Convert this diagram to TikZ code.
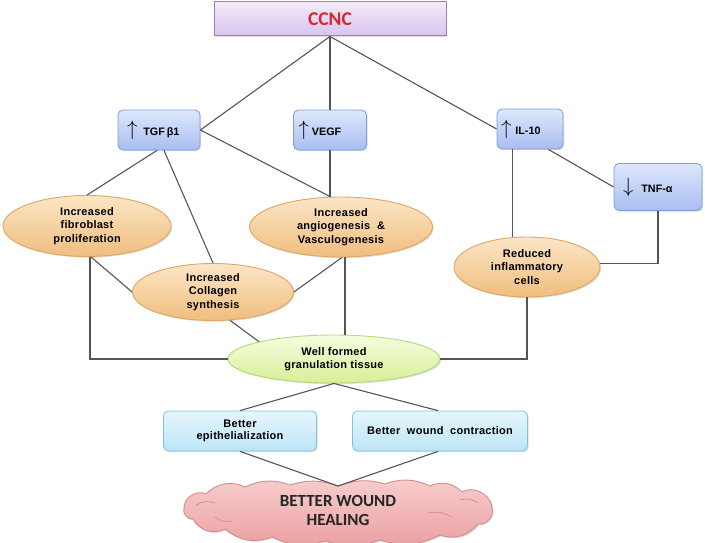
\documentclass[tikz,border=0pt]{standalone}
\usepackage{fontspec}
\setmainfont{Liberation Sans}
\newfontfamily\calib{Carlito}
\newfontfamily\ovalfont[LetterSpace=2.5]{Liberation Sans}
\usetikzlibrary{shapes.geometric,shadows,calc}
\definecolor{lnc}{HTML}{555555}
\definecolor{ccncR}{HTML}{D42A2A}
\definecolor{HTMLpurpleb}{HTML}{9C7DC6}
\definecolor{purpleT}{HTML}{F3EAFB}
\definecolor{purpleB}{HTML}{D8C4EF}
\definecolor{blueD}{HTML}{7E9BDA}
\definecolor{blueT}{HTML}{DEE7FC}
\definecolor{blueB}{HTML}{A8BEF1}
\definecolor{orangeD}{HTML}{E0A560}
\definecolor{orangeT}{HTML}{FCE6C6}
\definecolor{orangeB}{HTML}{EFBD7E}
\definecolor{greenD}{HTML}{B5D977}
\definecolor{greenT}{HTML}{F6FCDF}
\definecolor{greenB}{HTML}{D6EF98}
\definecolor{cyanD}{HTML}{7CC5E5}
\definecolor{cyanT}{HTML}{E6F6FC}
\definecolor{cyanB}{HTML}{BCE5F6}
\definecolor{pinkD}{HTML}{D48B8D}
\definecolor{pinkT}{HTML}{F8CDCD}
\definecolor{pinkB}{HTML}{EAA0A2}
\tikzset{
  conn/.style={draw=lnc, line width=1.1pt},
  shd/.style={drop shadow={opacity=0.25, shadow xshift=1.2pt, shadow yshift=-1.2pt}},
  topbox/.style={rectangle, draw=HTMLpurpleb, line width=1pt, top color=purpleT, bottom color=purpleB,
     minimum width=232pt, minimum height=34pt, inner sep=0pt, shd,
     font=\calib\bfseries\fontsize{19.5}{20}\selectfont, text=ccncR},
  bluebox/.style={rectangle, rounded corners=5pt, draw=blueD, line width=0.8pt, top color=blueT, bottom color=blueB,
     minimum height=40pt, inner sep=4pt, align=left, shd,
     font=\bfseries\fontsize{10.8}{12}\selectfont},
  oval/.style={ellipse, draw=orangeD, line width=0.9pt, top color=orangeT, bottom color=orangeB,
     inner sep=0pt, align=center, shd, font=\ovalfont\bfseries\fontsize{11}{13.8}\selectfont},
  greenoval/.style={ellipse, draw=greenD, line width=0.9pt, top color=greenT, bottom color=greenB,
     inner sep=0pt, align=center, shd, font=\ovalfont\bfseries\fontsize{11}{12.5}\selectfont},
  cyanbox/.style={rectangle, rounded corners=5pt, draw=cyanD, line width=0.8pt, top color=cyanT, bottom color=cyanB,
     minimum height=40pt, inner sep=0pt, align=center, shd, font=\ovalfont\bfseries\fontsize{11}{12.5}\selectfont},
  cloudpath/.style={draw=pinkD, line width=0.9pt, top color=pinkT, bottom color=pinkB, shd},
  puffline/.style={draw=pinkD, line width=0.7pt},
  cloudtext/.style={inner sep=0pt, align=center, font=\calib\bfseries\fontsize{17}{19}\selectfont, text=black!85}
}
\newcommand{\upa}{{\fontsize{21}{21}\selectfont$\uparrow$}}
\newcommand{\dna}{{\fontsize{21}{21}\selectfont$\downarrow$}}
\begin{document}
\begin{tikzpicture}[x=1pt,y=-1pt]
\useasboundingbox (0,0) rectangle (705,543);
% cloud outline
\path[cloudpath] (184,508) to[bend left=60] (206,494) to[bend left=35] (245,487)
   to[bend left=22] (290,485) to[bend left=18] (338,486) to[bend left=18] (385,484)
   to[bend left=22] (430,486) to[bend left=35] (462,492) to[bend left=60] (492,508)
   to[bend left=60] (478,524) to[bend left=35] (440,535) to[bend left=22] (380,540)
   to[bend left=18] (325,541) to[bend left=22] (272,537) to[bend left=30] (225,529)
   to[bend left=45] (193,519) to[bend left=60] (184,508) -- cycle;
\draw[puffline] (196,505) to[bend left=25] (215,503);
\draw[puffline] (215,517) to[bend right=25] (232,521);
\draw[puffline] (428,513) to[bend left=20] (452,517);
\draw[puffline] (460,500) to[bend left=25] (478,503);
% nodes
\node[topbox] (ccnc) at (330,19) {CCNC};
\node[bluebox, minimum width=82pt, text width=74pt] (tgf) at (159,130) {\hspace{5pt}\upa\hspace{6pt}TGF\,β1};
\node[bluebox, minimum width=73pt, text width=65pt] (vegf) at (330,130) {\hspace{1pt}\upa\hspace{3pt}VEGF};
\node[bluebox, minimum width=66pt, text width=58pt] (il) at (530,129) {\upa\hspace{4pt}IL-10};
\node[bluebox, minimum width=88pt, minimum height=47pt, text width=80pt] (tnf) at (658,187) {\hspace{5pt}\dna\hspace{8pt}TNF-α};
\node[oval, minimum width=168pt, minimum height=61pt] (fib) at (87,226) {Increased\\fibroblast\\proliferation};
\node[oval, minimum width=183pt, minimum height=60pt] (ang) at (341,227) {Increased\\angiogenesis \ \&\\Vasculogenesis};
\node[oval, minimum width=161pt, minimum height=57pt] (col) at (213,292) {Increased\\Collagen\\synthesis};
\node[oval, minimum width=146pt, minimum height=60pt] (red) at (527,267) {Reduced\\inflammatory\\cells};
\node[greenoval, minimum width=212pt, minimum height=48pt] (well) at (334,359) {Well formed\\granulation tissue};
\node[cyanbox, minimum width=153pt] (epi) at (240,431) {Better\\epithelialization};
\node[cyanbox, minimum width=175pt] (con) at (440,431) {Better\ \ wound\ \ contraction};
\node[cloudtext] (heal) at (338,510) {BETTER WOUND\\HEALING};
\coordinate (healtop) at (338,486);
% connectors
\draw[conn] (ccnc.south) -- (tgf.east);
\draw[conn] (ccnc.south) -- (vegf.north);
\draw[conn] (ccnc.south) -- (il.west);
\draw[conn] ($(tgf.south)+(-2,0)$) -- (fib.north);
\draw[conn] ($(tgf.south)+(5,0)$) -- (col.north);
\draw[conn] (tgf.east) -- (vegf.south |- ang.north);
\draw[conn] (vegf.south) -- (vegf.south |- ang.north);
\draw[conn] ($(il.south west)+(16,0)$) coordinate (ilb) -- (ilb |- red.north);
\draw[conn] ($(il.south east)+(-15,0)$) -- (tnf.west);
\draw[conn] (tnf.south) -- (tnf.south |- red.3) -- (red.3);
\draw[conn] (red.south) -- (red.south |- well.east) -- (well.east);
\draw[conn] ($(fib.south)+(3,0)$) coordinate (fb) -- (fb |- well.west) -- (well.west);
\draw[conn] ($(fib.south)+(4,0)$) -- (col.west);
\draw[conn] ($(ang.south)+(1,0)$) -- (col.east);
\draw[conn] ($(ang.south)+(4,0)$) coordinate (ab) -- (ab |- well.north);
\draw[conn] (col.-59) -- (well.167);
\draw[conn] (well.south) -- (epi.north);
\draw[conn] (well.south) -- ($(con.north)+(-2,0)$);
\draw[conn] (epi.south) -- (healtop);
\draw[conn] ($(con.south)+(-2,0)$) -- (healtop);
\end{tikzpicture}
\end{document}
